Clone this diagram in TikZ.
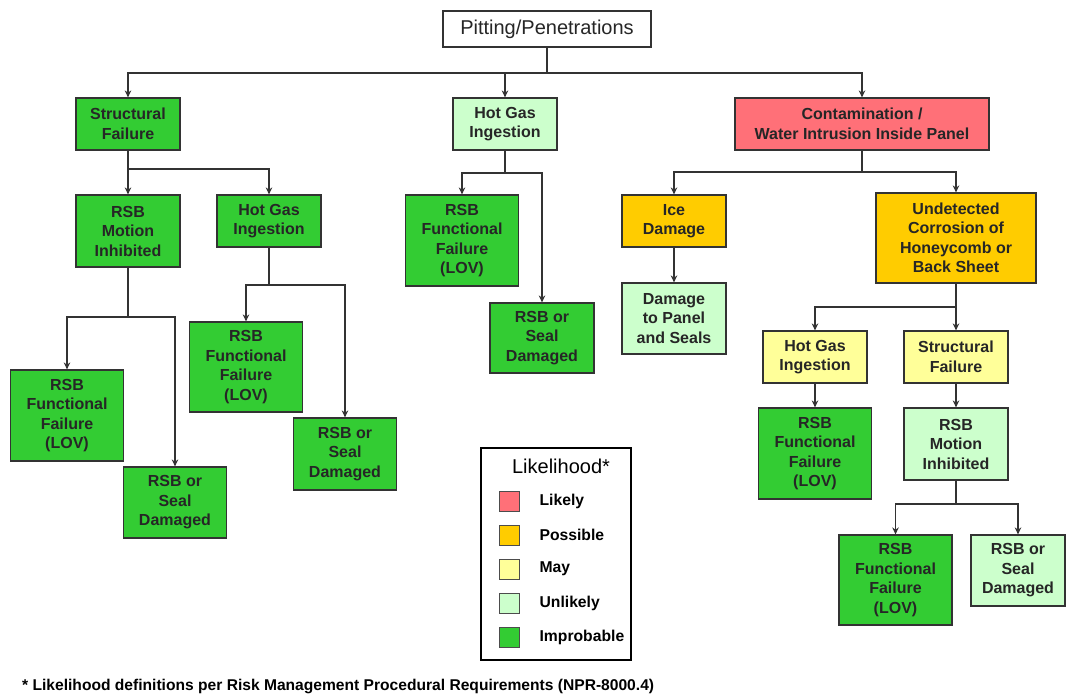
\documentclass[tikz,border=0pt]{standalone}
\usepackage{fontspec}
\setmainfont{Liberation Sans}
\usepackage{tikz}
\usetikzlibrary{arrows.meta,positioning}
\definecolor{likely}{RGB}{255,112,120}
\definecolor{possible}{RGB}{255,204,0}
\definecolor{may}{RGB}{255,255,153}
\definecolor{unlikely}{RGB}{204,255,204}
\definecolor{improbable}{RGB}{51,204,51}
\tikzstyle{box}=[draw=black!80,line width=1.2pt,align=center,inner sep=0pt,text=black!85,font=\bfseries\fontsize{16}{19.5}\selectfont]
\tikzstyle{impr}=[box,fill=improbable]
\tikzstyle{unl}=[box,fill=unlikely]
\tikzstyle{mayb}=[box,fill=may]
\tikzstyle{poss}=[box,fill=possible]
\tikzstyle{lik}=[box,fill=likely]
\tikzstyle{edge}=[draw,line width=1.4pt,black!80,-{Stealth[length=7pt,width=6.5pt]}]
\tikzstyle{stem}=[draw,line width=1.4pt,black!80]
\tikzstyle{swatch}=[draw=black!70,line width=0.8pt,minimum size=20pt,inner sep=0pt]
\tikzstyle{legtext}=[inner sep=0pt,font=\bfseries\fontsize{15.7}{18}\selectfont]

\begin{document}
\begin{tikzpicture}[x=1pt,y=-1pt]
        \useasboundingbox[fill=white] (0,0) rectangle (1067,694);
        % top
        \node[box,fill=white,font=\fontsize{20}{24}\selectfont,minimum width=208pt,minimum height=36pt] (root) at (547,29) {Pitting/Penetrations};
        \node[impr,minimum width=104pt,minimum height=52pt] (sf1) at (128,124) {Structural\\Failure};
        \node[unl,minimum width=104pt,minimum height=52pt] (hg1) at (505,124) {Hot Gas\\Ingestion};
        \node[lik,minimum width=254pt,minimum height=52pt] (cont) at (862,124) {Contamination /\\Water Intrusion Inside Panel};
        % left branch
        \node[impr,minimum width=104pt,minimum height=72pt] (mi1) at (128,231) {RSB\\Motion\\Inhibited};
        \node[impr,minimum width=104pt,minimum height=52pt] (hg2) at (269,221) {Hot Gas\\Ingestion};
        \node[impr,minimum width=113pt,minimum height=91pt] (ff1) at (67,415.5) {RSB\\Functional\\Failure\\(LOV)};
        \node[impr,minimum width=103pt,minimum height=71pt] (sd1) at (175,502.5) {RSB or\\Seal\\Damaged};
        \node[impr,minimum width=113pt,minimum height=90pt] (ff2) at (246,367) {RSB\\Functional\\Failure\\(LOV)};
        \node[impr,minimum width=103pt,minimum height=72pt] (sd2) at (345,454) {RSB or\\Seal\\Damaged};
        % middle branch
        \node[impr,minimum width=113pt,minimum height=91pt] (ff3) at (462,240.5) {RSB\\Functional\\Failure\\(LOV)};
        \node[impr,minimum width=104pt,minimum height=70pt] (sd3) at (542,338) {RSB or\\Seal\\Damaged};
        % right branch
        \node[poss,minimum width=104pt,minimum height=52pt] (ice) at (674,221) {Ice\\Damage};
        \node[unl,minimum width=104pt,minimum height=71pt] (dmg) at (674,318.5) {Damage\\to Panel\\and Seals};
        \node[poss,minimum width=160pt,minimum height=90pt] (cor) at (956,238) {Undetected\\Corrosion of\\Honeycomb or\\Back Sheet};
        \node[mayb,minimum width=104pt,minimum height=52pt] (hg3) at (815,357) {Hot Gas\\Ingestion};
        \node[mayb,minimum width=104pt,minimum height=52pt] (sf3) at (956,357) {Structural\\Failure};
        \node[impr,minimum width=113pt,minimum height=91pt] (ff4) at (815,453.5) {RSB\\Functional\\Failure\\(LOV)};
        \node[unl,minimum width=104pt,minimum height=72pt] (mi3) at (956,444) {RSB\\Motion\\Inhibited};
        \node[impr,minimum width=113pt,minimum height=90pt] (ff5) at (895.5,580) {RSB\\Functional\\Failure\\(LOV)};
        \node[unl,minimum width=94pt,minimum height=71pt] (sd5) at (1018,570.5) {RSB or\\Seal\\Damaged};
        % junctions
        \coordinate (j0) at (547,73);
        \coordinate (j1) at (128,169);
        \coordinate (j2) at (505,173);
        \coordinate (j3) at (128,317);
        \coordinate (j4) at (269,285);
        \coordinate (j5) at (862,172);
        \coordinate (j6) at (956,307);
        \coordinate (j7) at (956,504);
        \draw[stem] (root) -- (j0);
        \draw[edge] (j0) -| (sf1);
        \draw[edge] (j0) -| (hg1);
        \draw[edge] (j0) -| (cont);
        \draw[stem] (sf1) -- (j1);
        \draw[edge] (j1) -| (mi1);
        \draw[edge] (j1) -| (hg2);
        \draw[stem] (mi1) -- (j3);
        \draw[edge] (j3) -| (ff1);
        \draw[edge] (j3) -| (sd1);
        \draw[stem] (hg2) -- (j4);
        \draw[edge] (j4) -| (ff2);
        \draw[edge] (j4) -| (sd2);
        \draw[stem] (hg1) -- (j2);
        \draw[edge] (j2) -| (ff3);
        \draw[edge] (j2) -| (sd3);
        \draw[stem] (cont) -- (j5);
        \draw[edge] (j5) -| (ice);
        \draw[edge] (j5) -| (cor);
        \draw[edge] (ice) -- (dmg);
        \draw[stem] (cor) -- (j6);
        \draw[edge] (j6) -| (hg3);
        \draw[edge] (j6) -| (sf3);
        \draw[edge] (hg3) -- (ff4);
        \draw[edge] (sf3) -- (mi3);
        \draw[stem] (mi3) -- (j7);
        \draw[edge] (j7) -| (ff5);
        \draw[edge] (j7) -| (sd5);
        % legend
        \node[draw,line width=2.2pt,minimum width=150pt,minimum height=212pt,inner sep=0pt] (legend) at (556,554) {};
        \node[font=\fontsize{20}{24}\selectfont,inner sep=0pt] (legtitle) at (561,466) {Likelihood*};
        \foreach \c/\t [count=\i] in {likely/Likely,possible/Possible,may/May,unlikely/Unlikely,improbable/Improbable}
        {
          \node[swatch,fill=\c] (sw\i) at (509,467+34*\i) {};
          \node[legtext,right=20pt of sw\i] (lt\i) {\t};
        }
        \node[anchor=west,inner sep=0pt,font=\bfseries\fontsize{15.6}{18}\selectfont] (note) at (22,686) {* Likelihood definitions per Risk Management Procedural Requirements (NPR-8000.4)};
\end{tikzpicture}
\end{document}
